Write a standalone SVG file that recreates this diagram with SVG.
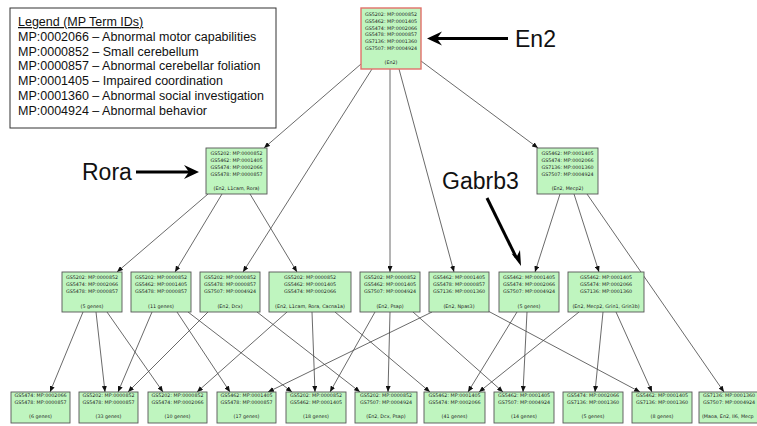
<svg xmlns="http://www.w3.org/2000/svg" width="757" height="426" viewBox="0 0 757 426">
<defs>
<marker id="ah" markerUnits="userSpaceOnUse" markerWidth="6" markerHeight="5" refX="6" refY="2.5" orient="auto"><path d="M0,0 L6,2.5 L0,5 z" fill="#111"/></marker>
<style>
.n rect{fill:#bff5bf;stroke:#555;stroke-width:0.9}
.n text{font-family:"DejaVu Sans",sans-serif;font-size:4.8px;fill:#222;text-anchor:middle}
.top rect{stroke:#e2706a;stroke-width:1.4}
.e line{stroke:#444;stroke-width:0.8;marker-end:url(#ah)}
.lg text{font-family:"Liberation Sans",Arial,sans-serif;font-size:12.5px;fill:#111}
.big{font-family:"Liberation Sans",Arial,sans-serif;font-size:23px;fill:#111}
.ba{stroke:#000;stroke-width:3;fill:none}
</style>
</defs>
<rect width="757" height="426" fill="#fff"/>

<g id="legend" class="lg">
<rect x="10" y="8" width="266" height="120" fill="#fff" stroke="#333" stroke-width="1"/>
<text x="18" y="26" text-decoration="underline">Legend (MP Term IDs)</text>
<text x="18" y="40.8">MP:0002066 – Abnormal motor capabilities</text>
<text x="18" y="55.6">MP:0000852 – Small cerebellum</text>
<text x="18" y="70.4">MP:0000857 – Abnormal cerebellar foliation</text>
<text x="18" y="85.2">MP:0001405 – Impaired coordination</text>
<text x="18" y="100">MP:0001360 – Abnormal social investigation</text>
<text x="18" y="114.8">MP:0004924 – Abnormal behavior</text>
</g>

<g id="connectors" class="e">
<line x1="361" y1="64" x2="264" y2="148"/>
<line x1="372" y1="69" x2="243" y2="272"/>
<line x1="390" y1="69" x2="390" y2="272"/>
<line x1="399" y1="69" x2="454" y2="272"/>
<line x1="421" y1="61" x2="538" y2="148"/>
<line x1="208" y1="194" x2="117" y2="272"/>
<line x1="222" y1="194" x2="175" y2="272"/>
<line x1="250" y1="194" x2="297" y2="272"/>
<line x1="560" y1="194" x2="535" y2="272"/>
<line x1="574" y1="194" x2="599" y2="272"/>
<line x1="587" y1="194" x2="724" y2="392"/>
<line x1="83" y1="312" x2="50" y2="392"/>
<line x1="96" y1="312" x2="105" y2="392"/>
<line x1="107" y1="312" x2="163" y2="392"/>
<line x1="152" y1="312" x2="118" y2="392"/>
<line x1="177" y1="312" x2="230" y2="392"/>
<line x1="188" y1="312" x2="292" y2="392"/>
<line x1="208" y1="312" x2="128" y2="392"/>
<line x1="257" y1="312" x2="360" y2="392"/>
<line x1="287" y1="312" x2="197" y2="392"/>
<line x1="312" y1="312" x2="315" y2="392"/>
<line x1="335" y1="312" x2="430" y2="392"/>
<line x1="375" y1="312" x2="330" y2="392"/>
<line x1="390" y1="312" x2="388" y2="392"/>
<line x1="413" y1="312" x2="503" y2="392"/>
<line x1="432" y1="312" x2="268" y2="392"/>
<line x1="488" y1="311" x2="640" y2="392"/>
<line x1="517" y1="312" x2="468" y2="392"/>
<line x1="527" y1="312" x2="523" y2="392"/>
<line x1="579" y1="312" x2="479" y2="392"/>
<line x1="603" y1="312" x2="595" y2="392"/>
<line x1="616" y1="312" x2="652" y2="392"/>
</g>

<g id="n_top" class="n top">
<rect x="361" y="8" width="60" height="61"/>
<text x="391" y="15.7">GS5202: MP:0000852</text>
<text x="391" y="22.6">GS5462: MP:0001405</text>
<text x="391" y="29.5">GS5474: MP:0002066</text>
<text x="391" y="36.4">GS5478: MP:0000857</text>
<text x="391" y="43.3">GS7136: MP:0001360</text>
<text x="391" y="50.2">GS7507: MP:0004924</text>
<text x="391" y="64">(En2)</text>
</g>

<g id="n_rora" class="n">
<rect x="206" y="148" width="61" height="46"/>
<text x="236.5" y="155">GS5202: MP:0000852</text>
<text x="236.5" y="161.9">GS5462: MP:0001405</text>
<text x="236.5" y="168.8">GS5474: MP:0002066</text>
<text x="236.5" y="175.7">GS5478: MP:0000857</text>
<text x="236.5" y="189.5">(En2, L1cam, Rora)</text>
</g>

<g id="n_mecp2" class="n">
<rect x="537" y="148" width="61" height="46"/>
<text x="567.5" y="155">GS5462: MP:0001405</text>
<text x="567.5" y="161.9">GS5474: MP:0002066</text>
<text x="567.5" y="168.8">GS7136: MP:0001360</text>
<text x="567.5" y="175.7">GS7507: MP:0004924</text>
<text x="567.5" y="189.5">(En2, Mecp2)</text>
</g>

<g id="n_r3a" class="n">
<rect x="62" y="272" width="60" height="40"/>
<text x="92" y="279.4">GS5202: MP:0000852</text>
<text x="92" y="286.4">GS5474: MP:0002066</text>
<text x="92" y="293.4">GS5478: MP:0000857</text>
<text x="92" y="307.7">(5 genes)</text>
</g>
<g id="n_r3b" class="n">
<rect x="131" y="272" width="60" height="40"/>
<text x="161" y="279.4">GS5202: MP:0000852</text>
<text x="161" y="286.4">GS5462: MP:0001405</text>
<text x="161" y="293.4">GS5478: MP:0000857</text>
<text x="161" y="307.7">(11 genes)</text>
</g>
<g id="n_r3c" class="n">
<rect x="200" y="272" width="60" height="40"/>
<text x="230" y="279.4">GS5202: MP:0000852</text>
<text x="230" y="286.4">GS5478: MP:0000857</text>
<text x="230" y="293.4">GS7507: MP:0004924</text>
<text x="230" y="307.7">(En2, Dcx)</text>
</g>
<g id="n_r3d" class="n">
<rect x="269" y="272" width="82" height="40"/>
<text x="310" y="279.4">GS5202: MP:0000852</text>
<text x="310" y="286.4">GS5462: MP:0001405</text>
<text x="310" y="293.4">GS5474: MP:0002066</text>
<text x="310" y="307.7">(En2, L1cam, Rora, Cacna1a)</text>
</g>
<g id="n_r3e" class="n">
<rect x="360" y="272" width="60" height="40"/>
<text x="390" y="279.4">GS5202: MP:0000852</text>
<text x="390" y="286.4">GS5462: MP:0001405</text>
<text x="390" y="293.4">GS7507: MP:0004924</text>
<text x="390" y="307.7">(En2, Psap)</text>
</g>
<g id="n_r3f" class="n">
<rect x="429" y="272" width="60" height="40"/>
<text x="459" y="279.4">GS5462: MP:0001405</text>
<text x="459" y="286.4">GS5478: MP:0000857</text>
<text x="459" y="293.4">GS7136: MP:0001360</text>
<text x="459" y="307.7">(En2, Npas3)</text>
</g>
<g id="n_r3g" class="n">
<rect x="499" y="272" width="60" height="40"/>
<text x="529" y="279.4">GS5462: MP:0001405</text>
<text x="529" y="286.4">GS5474: MP:0002066</text>
<text x="529" y="293.4">GS7507: MP:0004924</text>
<text x="529" y="307.7">(5 genes)</text>
</g>
<g id="n_r3h" class="n">
<rect x="568" y="272" width="76" height="40"/>
<text x="606" y="279.4">GS5462: MP:0001405</text>
<text x="606" y="286.4">GS5474: MP:0002066</text>
<text x="606" y="293.4">GS7136: MP:0001360</text>
<text x="606" y="307.7">(En2, Mecp2, Grin1, Grin3b)</text>
</g>

<g id="n_r4a" class="n">
<rect x="11" y="392" width="59" height="31"/>
<text x="40.5" y="397.4">GS5474: MP:0002066</text>
<text x="40.5" y="404.4">GS5478: MP:0000857</text>
<text x="40.5" y="417.7">(6 genes)</text>
</g>
<g id="n_r4b" class="n">
<rect x="79" y="392" width="59" height="31"/>
<text x="108.5" y="397.4">GS5202: MP:0000852</text>
<text x="108.5" y="404.4">GS5478: MP:0000857</text>
<text x="108.5" y="417.7">(33 genes)</text>
</g>
<g id="n_r4c" class="n">
<rect x="148" y="392" width="59" height="31"/>
<text x="177.5" y="397.4">GS5202: MP:0000852</text>
<text x="177.5" y="404.4">GS5474: MP:0002066</text>
<text x="177.5" y="417.7">(10 genes)</text>
</g>
<g id="n_r4d" class="n">
<rect x="217" y="392" width="59" height="31"/>
<text x="246.5" y="397.4">GS5462: MP:0001405</text>
<text x="246.5" y="404.4">GS5478: MP:0000857</text>
<text x="246.5" y="417.7">(17 genes)</text>
</g>
<g id="n_r4e" class="n">
<rect x="286" y="392" width="60" height="31"/>
<text x="316" y="397.4">GS5202: MP:0000852</text>
<text x="316" y="404.4">GS5462: MP:0001405</text>
<text x="316" y="417.7">(18 genes)</text>
</g>
<g id="n_r4f" class="n">
<rect x="355" y="392" width="62" height="31"/>
<text x="386" y="397.4">GS5202: MP:0000852</text>
<text x="386" y="404.4">GS7507: MP:0004924</text>
<text x="386" y="417.7">(En2, Dcx, Psap)</text>
</g>
<g id="n_r4g" class="n">
<rect x="424" y="392" width="61" height="31"/>
<text x="454.5" y="397.4">GS5462: MP:0001405</text>
<text x="454.5" y="404.4">GS5474: MP:0002066</text>
<text x="454.5" y="417.7">(41 genes)</text>
</g>
<g id="n_r4h" class="n">
<rect x="494" y="392" width="60" height="31"/>
<text x="524" y="397.4">GS5462: MP:0001405</text>
<text x="524" y="404.4">GS7507: MP:0004924</text>
<text x="524" y="417.7">(14 genes)</text>
</g>
<g id="n_r4i" class="n">
<rect x="563" y="392" width="60" height="31"/>
<text x="593" y="397.4">GS5474: MP:0002066</text>
<text x="593" y="404.4">GS7136: MP:0001360</text>
<text x="593" y="417.7">(5 genes)</text>
</g>
<g id="n_r4j" class="n">
<rect x="632" y="392" width="60" height="31"/>
<text x="662" y="397.4">GS5462: MP:0001405</text>
<text x="662" y="404.4">GS7136: MP:0001360</text>
<text x="662" y="417.7">(8 genes)</text>
</g>
<g id="n_r4k" class="n">
<rect x="699" y="392" width="72" height="31"/>
<text x="703" y="397.4" style="text-anchor:start">GS7136: MP:0001360</text>
<text x="703" y="404.4" style="text-anchor:start">GS7507: MP:0004924</text>
<text x="702" y="417.7" style="text-anchor:start">(Maoa, En2, Il6, Mecp</text>
</g>

<g id="callouts">
<text class="big" x="515" y="47">En2</text>
<line class="ba" x1="508" y1="38.5" x2="436" y2="38.5"/>
<path d="M427,38.5 L442,31.5 L437,38.5 L442,45.5 z" fill="#000"/>
<text class="big" x="82" y="180">Rora</text>
<line class="ba" x1="136" y1="172" x2="190" y2="172"/>
<path d="M199,172 L184,165 L189,172 L184,179 z" fill="#000"/>
<text class="big" x="442" y="189">Gabrb3</text>
<line class="ba" x1="487" y1="198" x2="516" y2="257"/>
<path d="M521,266 L511.5,253.5 L517,256 L520,250 z" fill="#000"/>
</g>
</svg>
